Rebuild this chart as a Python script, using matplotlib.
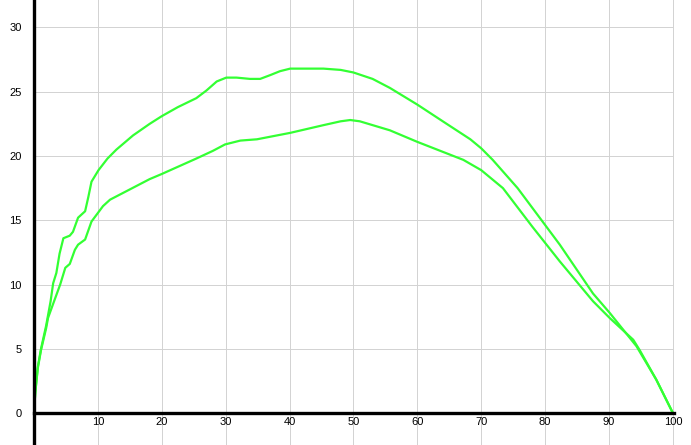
import matplotlib
matplotlib.use('Agg')
import matplotlib.pyplot as plt

# upper curve
upper_x = [0, 0.2, 0.6, 1.1, 1.9, 2.6, 3.0, 3.5, 4.0, 4.6, 5.1, 5.6, 6.1, 6.9, 8.0,
           8.5, 9.0, 10.1, 11.5, 12.9, 15.5, 18.1, 20, 22.5, 25.4, 27.0, 28.6, 30.1,
           31.7, 33.8, 35.4, 37, 38.5, 40.1, 45.3, 48, 50, 53, 55.7, 60, 64.6, 68.3,
           70, 71.8, 75.7, 79, 82.3, 87.5, 90.1, 94.3, 97.4, 100]
upper_y = [0, 1.6, 3.6, 5.0, 6.8, 8.7, 10.1, 10.9, 12.4, 13.6, 13.7, 13.8, 14.1, 15.2,
           15.7, 16.8, 18.0, 18.9, 19.8, 20.5, 21.6, 22.5, 23.1, 23.8, 24.5, 25.1, 25.8,
           26.1, 26.1, 26.0, 26.0, 26.3, 26.6, 26.8, 26.8, 26.7, 26.5, 26.0, 25.3, 24.0,
           22.5, 21.3, 20.6, 19.7, 17.5, 15.3, 13.1, 9.3, 7.8, 5.2, 2.6, 0]

# lower curve
lower_x = [0, 0.2, 0.6, 1.1, 1.9, 2.2, 3.0, 4.1, 4.9, 5.6, 6.4, 6.9, 8.0, 9.0, 9.9,
           10.8, 11.9, 15, 18.1, 20, 25.4, 28.0, 29.9, 32.3, 34.9, 40.1, 45.3, 48.0,
           49.5, 51.0, 55.7, 60, 67.2, 70, 73.4, 78.0, 82.3, 87.5, 90.1, 93.8, 94.8,
           97.4, 100]
lower_y = [0, 1.6, 3.5, 4.9, 6.6, 7.4, 8.5, 10.0, 11.3, 11.6, 12.7, 13.1, 13.5, 14.9,
           15.5, 16.1, 16.6, 17.4, 18.2, 18.6, 19.8, 20.4, 20.9, 21.2, 21.3, 21.8, 22.4,
           22.7, 22.8, 22.7, 22.0, 21.1, 19.7, 18.9, 17.5, 14.5, 11.8, 8.7, 7.4, 5.7,
           4.9, 2.6, 0]

x_ticks = [10, 20, 30, 40, 50, 60, 70, 80, 90, 100]
y_ticks = [0, 5, 10, 15, 20, 25, 30]

plt.rcParams['font.family'] = ['Liberation Sans', 'DejaVu Sans']

fig = plt.figure(figsize=(6.91, 4.45), dpi=100)
ax = fig.add_axes([34 / 691, 0, (673.5 - 34) / 691, 1])

green = '#33ff33'
ax.plot(upper_x, upper_y, color=green, linewidth=1.6, zorder=3,
        solid_joinstyle='round')
ax.plot(lower_x, lower_y, color=green, linewidth=1.6, zorder=3,
        solid_joinstyle='round')

ax.set_xlim(0, 100.1)
ax.set_ylim(-2.49, 32.14)

ax.set_xticks(x_ticks)
ax.set_yticks(y_ticks)
ax.tick_params(axis='both', length=0, labelsize=8, colors='black')
ax.tick_params(axis='x', pad=3)
ax.tick_params(axis='y', pad=9)

ax.grid(True, color='#d2d2d2', linewidth=0.7)
ax.set_axisbelow(True)

for side in ['top', 'right']:
    ax.spines[side].set_visible(False)
ax.spines['bottom'].set_position(('data', 0))
ax.spines['bottom'].set_linewidth(2.4)
ax.spines['left'].set_linewidth(2.4)
ax.spines['bottom'].set_zorder(4)
ax.spines['left'].set_zorder(4)

fig.savefig('out.png', dpi=100)
